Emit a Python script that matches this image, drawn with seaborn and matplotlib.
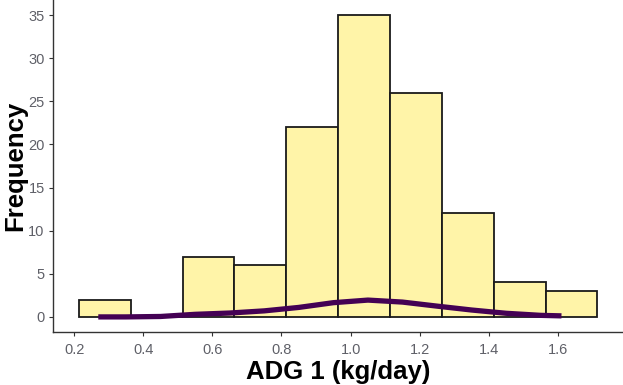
import numpy as np
import pandas as pd
import matplotlib
matplotlib.use("Agg")
import matplotlib.pyplot as plt
import seaborn as sns

# Histogram of average daily gain: bin edges and counts
bin_edges = [0.214, 0.364, 0.514, 0.664, 0.814, 0.964, 1.114, 1.264, 1.414, 1.564, 1.714]
bin_counts = [2, 0, 7, 6, 22, 35, 26, 12, 4, 3]

# Density curve
dens_x = [0.27, 0.35, 0.45, 0.55, 0.65, 0.75, 0.85, 0.95, 1.05, 1.15, 1.25, 1.35, 1.45, 1.55, 1.61]
dens_y = [0.0, 0.0, 0.05, 0.3, 0.45, 0.7, 1.1, 1.65, 1.95, 1.72, 1.25, 0.8, 0.42, 0.18, 0.12]

x_ticks = [0.2, 0.4, 0.6, 0.8, 1.0, 1.2, 1.4, 1.6]
y_ticks = [0, 5, 10, 15, 20, 25, 30, 35]

sns.set_style("ticks")
plt.rcParams["font.family"] = ["Liberation Sans", "DejaVu Sans"]

fig = plt.figure(figsize=(6.23, 3.85), dpi=100)
ax = fig.add_axes([53 / 623, 53 / 385, 570 / 623, 332 / 385])

centers = [(a + b) / 2 for a, b in zip(bin_edges[:-1], bin_edges[1:])]
hist_df = pd.DataFrame({"adg": centers, "n": bin_counts})
sns.histplot(data=hist_df, x="adg", weights="n", bins=bin_edges, ax=ax,
             color="#FFF4A8", alpha=1.0, edgecolor="#1a1a1a", linewidth=1.3)

dens_df = pd.DataFrame({"x": dens_x, "y": dens_y})
sns.lineplot(data=dens_df, x="x", y="y", ax=ax, color="#440154",
             linewidth=3.8, solid_capstyle="butt")

ax.set_xlim(0.139, 1.788)
ax.set_ylim(-1.75, 36.75)
ax.set_xticks(x_ticks)
ax.set_xticklabels([f"{v:.1f}" for v in x_ticks])
ax.set_yticks(y_ticks)
ax.set_yticklabels([str(v) for v in y_ticks])

for s in ["top", "right"]:
    ax.spines[s].set_visible(False)
for s in ["left", "bottom"]:
    ax.spines[s].set_color("#333333")
    ax.spines[s].set_linewidth(1.0)

ax.tick_params(axis="both", length=3, width=0.8, color="#333333",
               labelsize=10.5, labelcolor="#5f6068")
ax.tick_params(axis="x", pad=5)
ax.tick_params(axis="y", pad=3)

ax.set_xlabel("ADG 1 (kg/day)", fontsize=18.5, fontweight="bold", color="black", labelpad=2)
ax.set_ylabel("Frequency", fontsize=18.5, fontweight="bold", color="black", labelpad=1)
ax.grid(False)

fig.savefig("out.png", dpi=100)
